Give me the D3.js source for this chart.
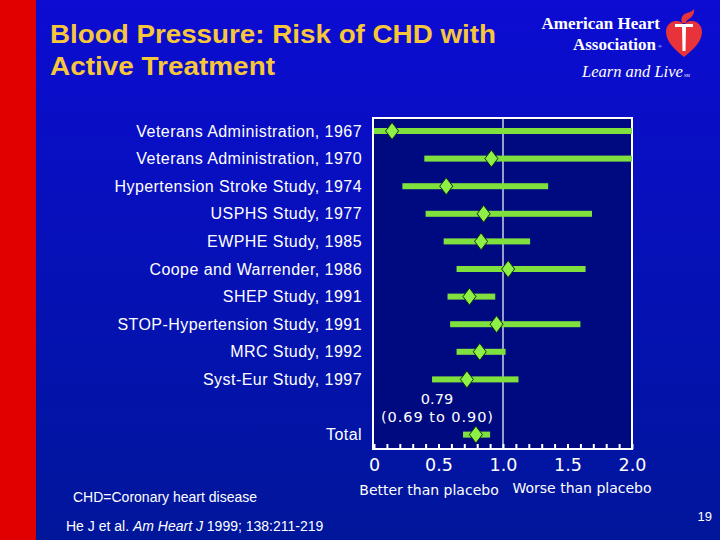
<!DOCTYPE html>
<html>
<head>
<meta charset="utf-8">
<script src="https://cdn.jsdelivr.net/npm/d3@7"></script>
<style>
  html, body { margin: 0; padding: 0; background: #0000b0; }
  svg { display: block; }
</style>
</head>
<body>
<div id="chart"></div>
<script>
'use strict';

// data
var studies = [
	'Veterans Administration, 1967',
	'Veterans Administration, 1970',
	'Hypertension Stroke Study, 1974',
	'USPHS Study, 1977',
	'EWPHE Study, 1985',
	'Coope and Warrender, 1986',
	'SHEP Study, 1991',
	'STOP-Hypertension Study, 1991',
	'MRC Study, 1992',
	'Syst-Eur Study, 1997',
	'Total'
];
var rowSlots = [0, 1, 2, 3, 4, 5, 6, 7, 8, 9, 11];
var estimate = [0.14, 0.91, 0.56, 0.85, 0.83, 1.04, 0.74, 0.95, 0.82, 0.72, 0.79];
var lower = [0.00, 0.39, 0.22, 0.40, 0.54, 0.64, 0.57, 0.59, 0.64, 0.45, 0.69];
var upper = [2.00, 2.00, 1.35, 1.69, 1.21, 1.64, 0.94, 1.60, 1.02, 1.12, 0.90];
var tickLabels = ['0', '0.5', '1.0', '1.5', '2.0'];
var tickValues = [0, 0.5, 1.0, 1.5, 2.0];

var W = 720, H = 540;
var plot = {left: 373, right: 632, top: 118, bottom: 449};

var svg = d3.select('#chart').append('svg')
	.attr('width', W)
	.attr('height', H);

var defs = svg.append('defs');
var grad = defs.append('linearGradient')
	.attr('id', 'bg')
	.attr('x1', 0).attr('y1', 0).attr('x2', 0).attr('y2', 1);
grad.append('stop').attr('offset', '0%').attr('stop-color', '#0c0cd2');
grad.append('stop').attr('offset', '100%').attr('stop-color', '#00169a');

svg.append('rect')
	.attr('width', W).attr('height', H)
	.attr('fill', 'url(#bg)');

svg.append('rect')
	.attr('width', 36).attr('height', H)
	.attr('fill', '#e00000');

// title, stretched a bit to match the slide's wider Arial
var title = svg.append('g')
	.style('font-family', '"Liberation Sans", Arial, sans-serif')
	.style('font-weight', 'bold')
	.style('font-size', '25px')
	.style('fill', '#f7c63a');
title.append('text').attr('x', 50).attr('y', 43)
	.attr('textLength', 446).attr('lengthAdjust', 'spacingAndGlyphs')
	.text('Blood Pressure: Risk of CHD with');
title.append('text').attr('x', 50).attr('y', 75)
	.attr('textLength', 225).attr('lengthAdjust', 'spacingAndGlyphs')
	.text('Active Treatment');

// logo
var logo = svg.append('g')
	.style('font-family', '"Liberation Serif", "Times New Roman", serif')
	.style('fill', 'white');
logo.append('text').attr('x', 660).attr('y', 29).attr('text-anchor', 'end')
	.style('font-size', '17px').style('font-weight', 'bold').text('American Heart');
logo.append('text').attr('x', 656).attr('y', 50).attr('text-anchor', 'end')
	.style('font-size', '17px').style('font-weight', 'bold').text('Association');
logo.append('text').attr('x', 658).attr('y', 48).style('font-size', '5px').text('®');
logo.append('text').attr('x', 582).attr('y', 77)
	.style('font-size', '16.5px').style('font-style', 'italic').text('Learn and Live');
logo.append('text').attr('x', 684).attr('y', 77).style('font-size', '4px').text('SM');

var heart = svg.append('g').attr('transform', 'translate(684,37)');
heart.append('path')
	.attr('d', 'M0,20 C-10,12 -18,4 -18,-5 C-18,-12 -13,-16 -8,-16 C-4,-16 -1,-14 0,-11 C1,-14 4,-16 8,-16 C13,-16 18,-12 18,-5 C18,4 10,12 0,20 Z')
	.attr('fill', '#e8333a');
heart.append('path')
	.attr('d', 'M-9,-13 L9,-13 L9,-10 L2,-10 L1.5,14 L-1.5,14 L-2,-10 L-9,-10 Z')
	.attr('fill', 'white');
heart.append('path')
	.attr('d', 'M-2,-14 C-4,-19 -1,-23 3,-24 C6,-25 9,-26 10,-28 C11,-24 8,-20 5,-18 C3,-17 2,-16 2,-14 Z')
	.attr('fill', '#e8333a');

// scales
var x = d3.scaleLinear().domain([0, 2]).range([plot.left + 1, plot.right]);
var y = d3.scaleLinear().domain([0, 11]).range([131, 434.6]);

// plot frame
svg.append('rect')
	.attr('x', plot.left).attr('y', plot.top)
	.attr('width', plot.right - plot.left).attr('height', plot.bottom - plot.top)
	.attr('fill', '#000a80')
	.attr('stroke', 'white')
	.attr('stroke-width', 2);

svg.append('line')
	.attr('x1', x(1)).attr('x2', x(1))
	.attr('y1', plot.top).attr('y2', plot.bottom)
	.attr('stroke', 'white')
	.attr('stroke-width', 1.2);

// minor ticks every 0.1, pointing up into the box
var xAxis = d3.axisTop(x)
	.tickValues(d3.range(0, 21).map(function(i){ return i / 10; }))
	.tickSize(5)
	.tickSizeOuter(0)
	.tickFormat('');
var axisG = svg.append('g')
	.attr('transform', 'translate(0,' + plot.bottom + ')')
	.call(xAxis);
axisG.select('.domain').remove();
axisG.selectAll('.tick line').attr('stroke', 'white').attr('stroke-width', 2);

var labelAxis = d3.axisBottom(x)
	.tickValues(tickValues)
	.tickSize(0)
	.tickPadding(0)
	.tickFormat(function(d, i){ return tickLabels[i]; });
var labG = svg.append('g')
	.attr('transform', 'translate(0,' + (plot.bottom + 6) + ')')
	.call(labelAxis);
labG.select('.domain').remove();
labG.selectAll('text')
	.attr('dy', '0.9em')
	.style('font-family', '"DejaVu Sans", Verdana, sans-serif')
	.style('font-size', '17.5px')
	.style('fill', 'white');

// study labels
svg.append('g').selectAll('text')
	.data(studies)
	.join('text')
	.attr('x', 362)
	.attr('y', function(d, i){ return y(rowSlots[i]) + 5.5; })
	.attr('text-anchor', 'end')
	.style('font-family', '"Liberation Sans", Arial, sans-serif')
	.style('font-size', '16px')
	.style('letter-spacing', '0.45px')
	.style('fill', 'white')
	.text(function(d){ return d; });

// CI bars
var rows = svg.append('g').selectAll('g')
	.data(studies)
	.join('g');

rows.append('rect')
	.attr('x', function(d, i){ return x(lower[i]); })
	.attr('width', function(d, i){ return x(upper[i]) - x(lower[i]); })
	.attr('y', function(d, i){ return y(rowSlots[i]) - 3; })
	.attr('height', 6)
	.attr('fill', '#7fe03e');

var dw = 6.5, dh = 8.5;
rows.append('path')
	.attr('d', function(d, i){
		var cx = x(estimate[i]), cy = y(rowSlots[i]);
		return 'M' + cx + ',' + (cy - dh) + 'L' + (cx + dw) + ',' + cy +
			'L' + cx + ',' + (cy + dh) + 'L' + (cx - dw) + ',' + cy + 'Z';
	})
	.attr('fill', '#8ef046')
	.attr('stroke', '#0a2a10')
	.attr('stroke-width', 1);

// total annotation
var fmt = d3.format('.2f');
var ann = svg.append('g')
	.attr('text-anchor', 'middle')
	.style('font-family', '"DejaVu Sans", Verdana, sans-serif')
	.style('font-size', '14.5px')
	.style('fill', 'white');
ann.append('text').attr('x', 437).attr('y', 404).text(fmt(estimate[10]));
ann.append('text').attr('x', 437).attr('y', 421.5)
	.attr('textLength', 112).attr('lengthAdjust', 'spacing')
	.text('(' + fmt(lower[10]) + ' to ' + fmt(upper[10]) + ')');

// direction labels
svg.append('text')
	.attr('x', 429).attr('y', 495)
	.attr('text-anchor', 'middle')
	.style('font-family', '"DejaVu Sans", Verdana, sans-serif')
	.style('font-size', '14px')
	.style('fill', 'white')
	.text('Better than placebo');
svg.append('text')
	.attr('x', 582).attr('y', 493)
	.attr('text-anchor', 'middle')
	.style('font-family', '"DejaVu Sans", Verdana, sans-serif')
	.style('font-size', '14px')
	.style('fill', 'white')
	.text('Worse than placebo');

// footer
var foot = svg.append('g')
	.style('font-family', '"Liberation Sans", Arial, sans-serif')
	.style('fill', 'white');
foot.append('text').attr('x', 73).attr('y', 502)
	.style('font-size', '14px').text('CHD=Coronary heart disease');
var ref = foot.append('text').attr('x', 66).attr('y', 531).style('font-size', '14px');
ref.append('tspan').text('He J et al. ');
ref.append('tspan').style('font-style', 'italic').text('Am Heart J');
ref.append('tspan').text(' 1999; 138:211-219');
foot.append('text').attr('x', 712).attr('y', 521).attr('text-anchor', 'end')
	.style('font-size', '13px').text('19');
</script>
</body>
</html>
